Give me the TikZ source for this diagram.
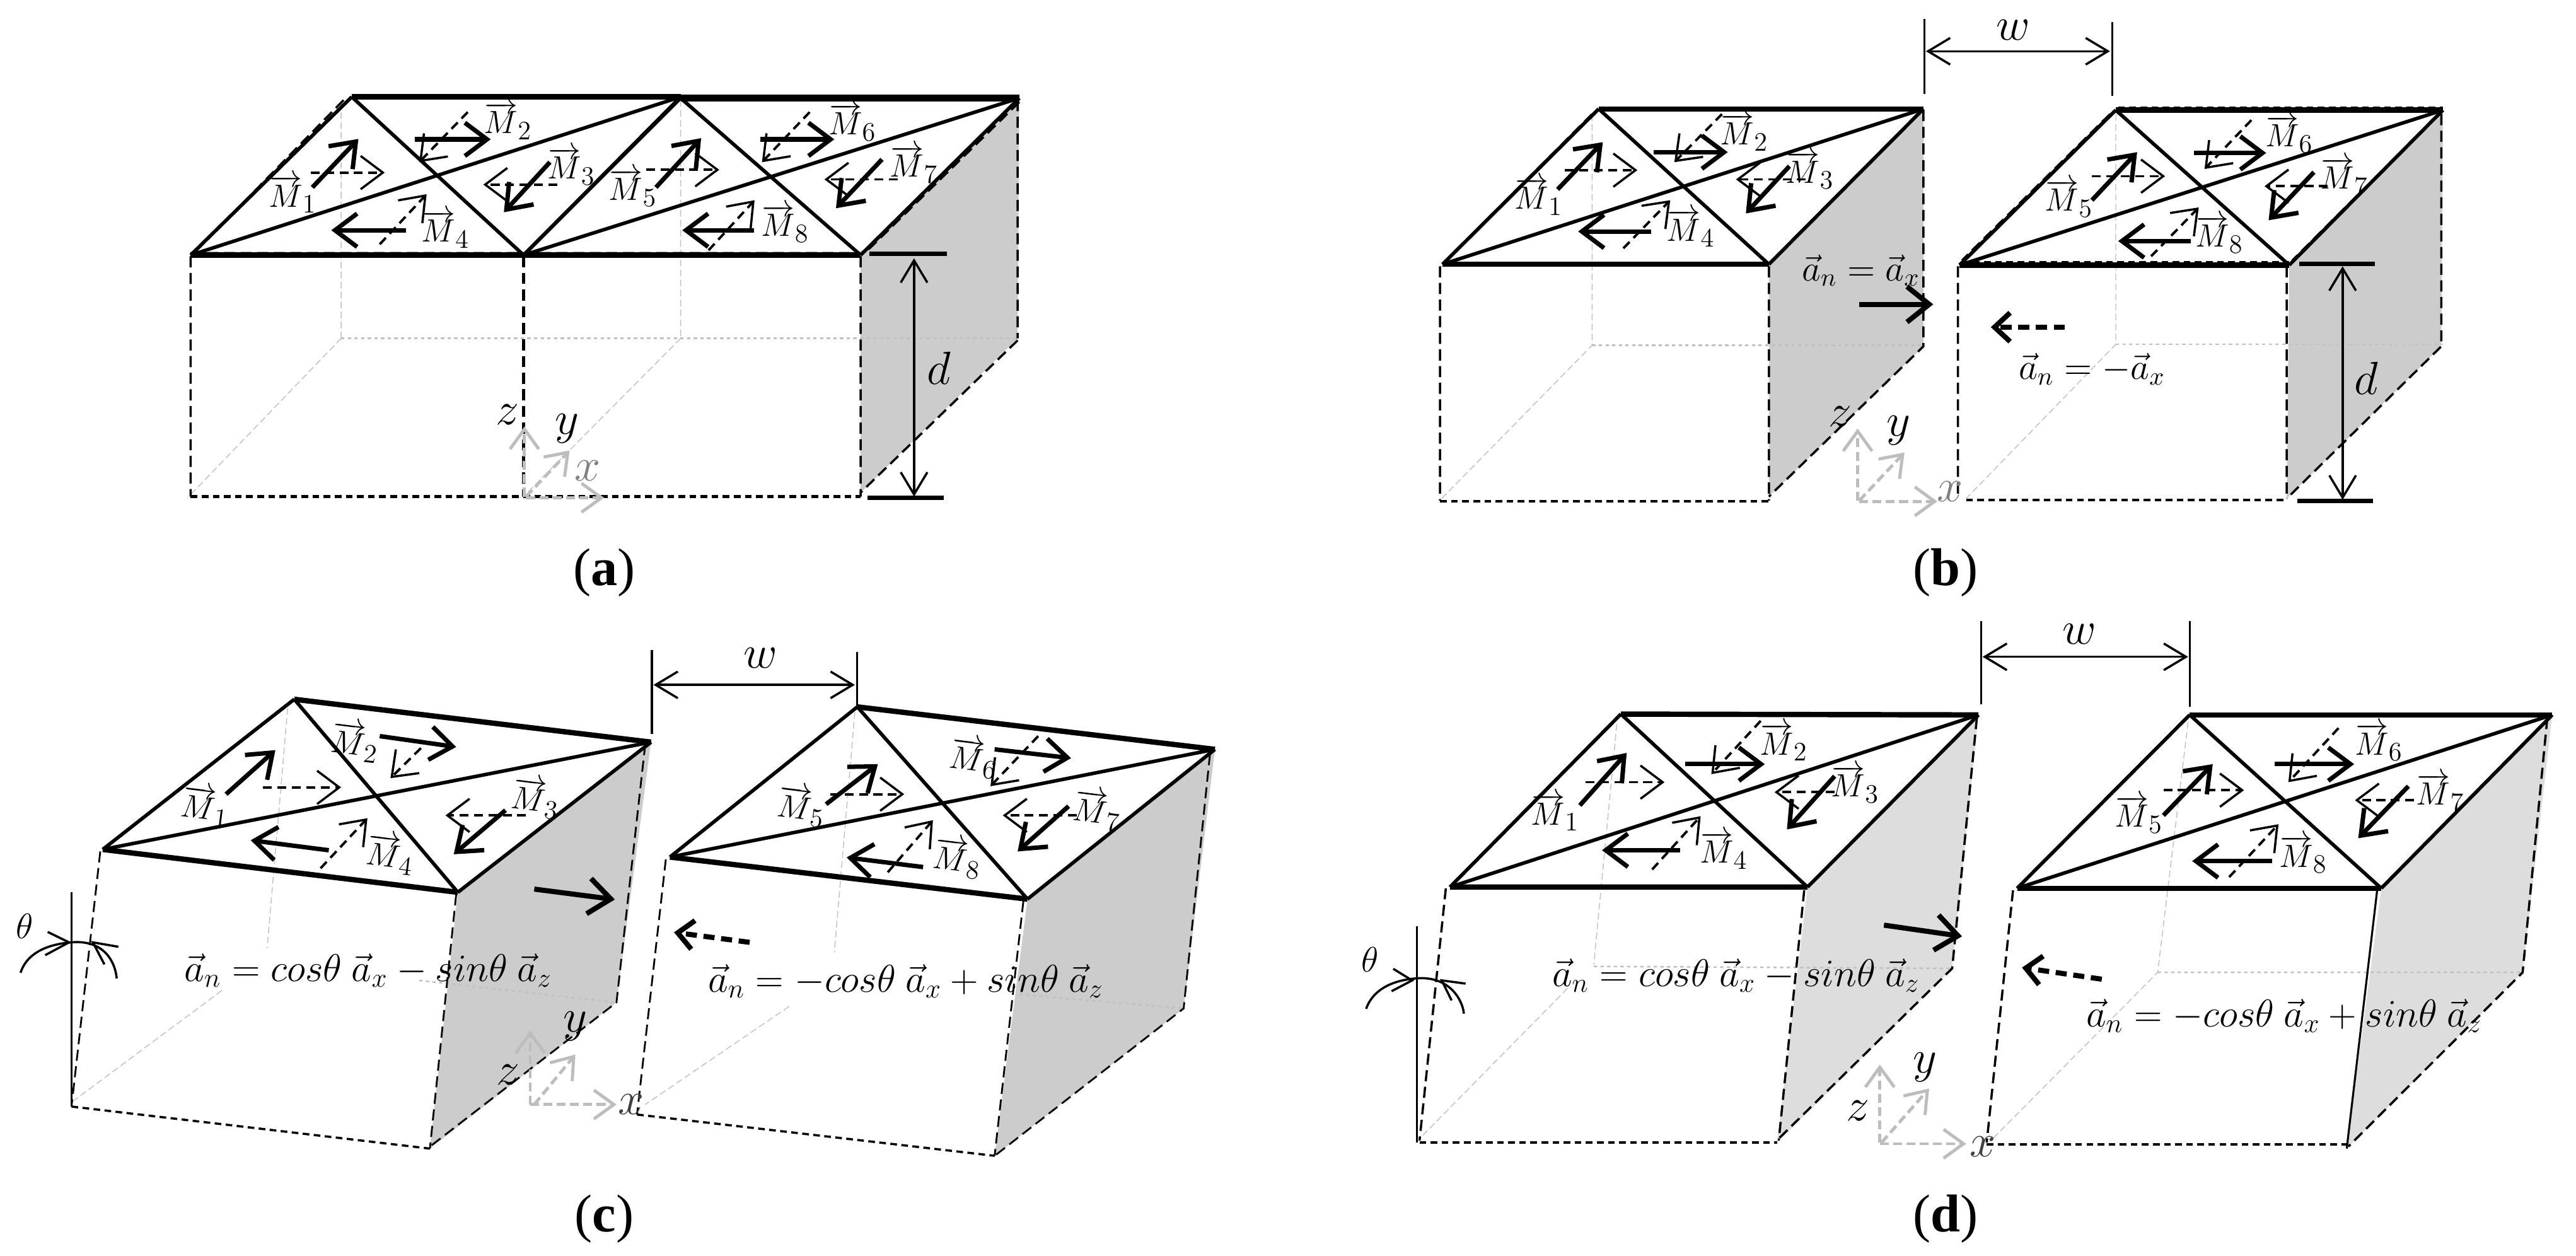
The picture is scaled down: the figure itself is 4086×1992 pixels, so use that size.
\RequirePackage{fix-cm}
\documentclass[tikz,border=0pt]{standalone}
\usepackage{fontspec}
\setmainfont{Liberation Serif}
\usetikzlibrary{arrows.meta}
\DeclareMathSizes{14.5}{14.5}{12}{10}
\definecolor{sidegray}{HTML}{CCCCCC}
\definecolor{sidegrayd}{HTML}{DDDDDD}
\definecolor{axisgray}{HTML}{BDBDBD}
\definecolor{hidgray}{HTML}{C0C0C0}
\tikzset{
  sarr/.style={line width=2pt,-{Straight Barb[length=10pt,width=15pt,line width=2pt]}},
  darr/.style={line width=1.1pt,dash pattern=on 4pt off 2.5pt,-{Straight Barb[length=10pt,width=15pt,line width=1pt]}},
  bigs/.style={line width=2.3pt,-{Straight Barb[length=10pt,width=16pt,line width=2.3pt]}},
  bigd/.style={line width=2.3pt,dash pattern=on 5pt off 3pt,-{Straight Barb[length=7pt,width=13pt,line width=2.3pt]}},
  axa/.style={axisgray,line width=1.4pt,dash pattern=on 4pt off 2pt,-{Straight Barb[length=9pt,width=13pt,line width=1.4pt]}},
  dimarr/.style={line width=1pt,{Straight Barb[length=10pt,width=12pt,line width=1pt]}-{Straight Barb[length=10pt,width=12pt,line width=1pt]}},
  ticks/.style={line width=.9pt},
  bdash/.style={line width=1pt,dash pattern=on 5pt off 2.5pt},
  bshort/.style={line width=1.2pt,dash pattern=on 3pt off 2pt},
  hid/.style={hidgray,line width=.4pt,dash pattern=on 3pt off 1.5pt},
  hidd/.style={hidgray,line width=.7pt,dash pattern=on 1.5pt off 1.5pt},
  ml/.style={font=\fontsize{14.5}{17}\selectfont,inner sep=0pt},
  fm/.style={font=\fontsize{17.5}{20}\selectfont,inner sep=0pt},
  fmb/.style={font=\fontsize{16.5}{20}\selectfont,inner sep=0pt},
  dimlab/.style={font=\fontsize{21}{24}\selectfont,inner sep=0pt},
  thetalab/.style={font=\fontsize{16}{19}\selectfont,inner sep=0pt},
  captext/.style={font=\fontsize{24}{28}\selectfont,inner sep=0pt},
}
\newcommand{\ML}[4][0]{\node[ml,rotate=#1] at (#2,#3) {$\overrightarrow{M}_{#4}$};}
\def\tile(#1)(#2)(#3)(#4){%
  \draw[line width=1.6pt] (#1)--(#4) (#2)--(#3);
  \draw[line width=1.6pt] (#1)--(#3) (#2)--(#4);
  \draw[line width=2.4pt] (#1)--(#2) (#3)--(#4);}
\begin{document}
\begin{tikzpicture}[x=0.01cm,y=-0.01cm]
\useasboundingbox (0,0) rectangle (4086,1992);
\fill[white] (0,0) rectangle (4086,1992);
%% ---------- panel a
\begin{scope}[x=0.013029cm,y=-0.006352cm]
\fill[sidegray] (1047,637)--(1240,245)--(1238,845)--(1047,1230)--cycle;
\draw[hid] (415,255)--(415,845) (828,250)--(828,845) (415,845)--(232,1235) (828,845)--(637,1240);
\draw[hidd] (415,845)--(1238,845);
\draw[bdash] (232,640)--(232,1240) (1047,640)--(1047,1240) (1238,250)--(1238,845) (1238,850)--(1047,1230);
\draw[bdash,line width=1.4pt] (637,640)--(637,1240);
\draw[bshort] (232,1240)--(1047,1240);
\draw[bdash] (418,250)--(236,632) (1240,255)--(1052,632) (232,632)--(1047,632);
\tile(428,242)(828,242)(232,637)(637,637)
\tile(828,245)(1240,245)(637,637)(1047,637)
\draw[line width=3pt] (828,245)--(1240,245);
\draw[sarr] (380,468)--(436,347); \draw[darr] (378,431)--(468,431);
\draw[sarr] (505,348)--(597,348); \draw[darr] (569,280)--(510,405);
\draw[sarr] (669,405)--(613,530); \draw[darr] (678,461)--(588,461);
\draw[sarr] (494,575)--(403,575); \draw[darr] (462,610)--(519,485);
\draw[sarr] (798,468)--(853,345); \draw[darr] (786,424)--(875,424);
\draw[sarr] (925,348)--(1015,348); \draw[darr] (985,280)--(927,405);
\draw[sarr] (1073,398)--(1017,520); \draw[darr] (1092,448)--(1003,448);
\draw[sarr] (917,575)--(830,575); \draw[darr] (862,625)--(918,500);
\ML{356}{485}{1}\ML{618}{302}{2}\ML{695}{415}{3}\ML{542}{572}{4}
\ML{770}{468}{5}\ML{1037}{305}{6}\ML{1112}{410}{7}\ML{955}{558}{8}
\draw[ticks,line width=1.8pt] (1058,634)--(1152,634) (1055,1243)--(1148,1243);
\draw[dimarr] (1112,645)--(1112,1240);
\node[dimlab] at (1142,920) {$d$};
\draw[axa] (638,1240)--(638,1065); \draw[axa] (640,1240)--(693,1125); \draw[axa] (640,1243)--(735,1243);
\node[dimlab] at (617,1035) {$z$}; \node[dimlab] at (690,1070) {$y$};
\node[dimlab,text=gray] at (715,1175) {$x$};
\node[captext] at (735,1430) {(\textbf{a})};
\end{scope}
%% ---------- panel b
\begin{scope}[shift={(2043,0)},x=0.013029cm,y=-0.006352cm]
\fill[sidegray] (585,660)--(773,272)--(773,865)--(585,1240)--cycle;
\fill[sidegray] (1218,662)--(1405,275)--(1403,865)--(1215,1245)--cycle;
\draw[hid] (370,285)--(370,862)--(187,1245) (1007,285)--(1007,860)--(825,1245);
\draw[hidd] (370,862)--(773,862) (1007,860)--(1405,860);
\draw[bdash] (185,665)--(185,1250) (585,665)--(585,1250) (773,275)--(773,865)--(585,1240);
\draw[bdash] (815,665)--(815,1245) (1215,665)--(1215,1245) (1403,285)--(1403,865)--(1215,1245);
\draw[bshort] (185,1252)--(585,1252) (825,1248)--(1215,1248);
\draw[bdash] (370,285)--(190,655);
\draw[bdash] (1000,285)--(820,650) (1400,285)--(1222,650);
\draw[bshort] (1010,270)--(1405,270) (820,655)--(1218,655);
\tile(378,272)(773,272)(188,660)(585,660)
\tile(1007,275)(1405,275)(817,662)(1218,662)
\draw[sarr] (328,473)--(383,355); \draw[darr] (337,425)--(425,425);
\draw[sarr] (445,380)--(535,380); \draw[darr] (528,285)--(470,405);
\draw[sarr] (610,415)--(557,533); \draw[darr] (630,448)--(545,448);
\draw[sarr] (442,578)--(353,578); \draw[darr] (408,620)--(465,500);
\draw[sarr] (978,500)--(1033,380); \draw[darr] (978,440)--(1067,440);
\draw[sarr] (1102,382)--(1190,382); \draw[darr] (1172,300)--(1115,422);
\draw[sarr] (1248,430)--(1193,550); \draw[darr] (1265,465)--(1188,465);
\draw[sarr] (1098,602)--(1010,602); \draw[darr] (1050,640)--(1108,518);
\ML{305}{490}{1}\ML{555}{330}{2}\ML{635}{425}{3}\ML{490}{570}{4}
\ML{950}{495}{5}\ML{1218}{335}{6}\ML{1285}{440}{7}\ML{1133}{585}{8}
\draw[ticks] (774,48)--(774,235) (1003,55)--(1003,240);
\draw[dimarr] (776,128)--(1000,128);
\node[dimlab] at (882,75) {$w$};
\draw[ticks,line width=1.8pt] (1230,659)--(1322,659) (1228,1251)--(1320,1251);
\draw[dimarr] (1283,665)--(1283,1248);
\node[dimlab] at (1312,945) {$d$};
\node[fmb] at (697,675) {$\vec a_n=\vec a_x$};
\draw[bigs] (695,760)--(785,760);
\draw[bigd] (945,817)--(855,817);
\node[fmb] at (978,922) {$\vec a_n=-\vec a_x$};
\draw[axa] (693,1250)--(693,1070); \draw[axa] (695,1250)--(750,1130); \draw[axa] (695,1252)--(790,1252);
\node[dimlab] at (672,1040) {$z$}; \node[dimlab] at (743,1075) {$y$};
\node[dimlab,text=gray] at (805,1228) {$x$};
\node[captext] at (800,1430) {(\textbf{b})};
\end{scope}
%% ---------- panel c
\begin{scope}[shift={(0,996)},x=0.013029cm,y=-0.006352cm]
\fill[sidegray] (557,660)--(792,285)--(750,935)--(523,1300)--cycle;
\fill[sidegray] (1250,677)--(1478,303)--(1440,950)--(1210,1318)--cycle;
\draw[hid] (350,200)--(325,800) (270,905)--(90,1180) (1040,210)--(1015,810) (960,945)--(785,1190);
\draw[hidd] (510,880)--(750,935) (1240,915)--(1440,950);
\draw[bdash,line width=.8pt] (122,558)--(87,1195) (555,665)--(523,1300) (785,290)--(750,935)--(523,1295);
\draw[bdash,line width=.8pt] (810,578)--(775,1215) (1245,682)--(1210,1318) (1472,315)--(1440,950)--(1212,1315);
\draw[bshort,line width=1pt] (87,1195)--(523,1300) (775,1215)--(1210,1318);
\draw[ticks] (87,660)--(87,1195);
\node[thetalab] at (30,745) {$\theta$};
\draw[line width=1pt] (25,861) .. controls (32,815) and (55,790) .. (87,785) .. controls (125,778) and (140,830) .. (142,875);
\draw[line width=1pt] (58,759)--(84,785)--(55,817) (144,796)--(113,785)--(127,840);
\tile(358,178)(792,285)(125,553)(557,660)
\tile(1043,197)(1478,303)(815,572)(1250,677)
\draw[sarr] (275,415)--(335,305); \draw[darr] (320,398)--(415,398);
\draw[sarr] (462,270)--(555,297); \draw[darr] (512,300)--(475,375);
\draw[sarr] (615,455)--(552,565); \draw[darr] (640,468)--(542,468);
\draw[sarr] (400,555)--(305,530); \draw[darr] (390,600)--(447,475);
\draw[sarr] (1005,440)--(1068,340); \draw[darr] (1010,415)--(1100,415);
\draw[sarr] (1210,303)--(1303,325); \draw[darr] (1263,270)--(1205,395);
\draw[sarr] (1300,445)--(1238,558); \draw[darr] (1310,468)--(1220,468);
\draw[sarr] (1123,597)--(1030,573); \draw[darr] (1080,610)--(1135,480);
\ML[-7]{250}{445}{1}\ML[-7]{432}{285}{2}\ML[-7]{652}{425}{3}\ML[-7]{475}{565}{4}
\ML[-7]{975}{445}{5}\ML[-7]{1185}{325}{6}\ML[-7]{1335}{455}{7}\ML[-7]{1165}{575}{8}
\draw[ticks] (793,55)--(793,265) (1043,60)--(1043,195);
\draw[dimarr] (795,142)--(1040,142);
\node[dimlab] at (925,75) {$w$};
\node[fm] at (448,855) {$\vec a_n=cos\theta\ \vec a_x-sin\theta\ \vec a_z$};
\node[fm] at (1102,882) {$\vec a_n=-cos\theta\ \vec a_x+sin\theta\ \vec a_z$};
\draw[bigs] (650,652)--(748,678);
\draw[bigd] (912,785)--(820,760);
\draw[axa] (645,1190)--(645,1005); \draw[axa] (650,1190)--(700,1065); \draw[axa] (645,1190)--(750,1190);
\node[dimlab] at (618,1115) {$z$}; \node[dimlab] at (700,995) {$y$};
\node[dimlab,text=darkgray] at (768,1190) {$x$};
\node[captext] at (735,1475) {(\textbf{c})};
\end{scope}
%% ---------- panel d
\begin{scope}[shift={(2043,996)},x=0.013029cm,y=-0.006352cm]
\fill[sidegrayd] (632,647)--(840,217)--(808,850)--(595,1285)--cycle;
\fill[sidegrayd] (1330,650)--(1538,217)--(1502,860)--(1288,1300)--cycle;
\draw[hid] (400,240)--(372,840) (340,900)--(160,1275) (1095,235)--(1058,860)--(855,1280);
\draw[hidd] (372,845)--(808,850) (1058,860)--(1500,860);
\draw[bdash] (192,650)--(160,1280) (628,655)--(597,1280) (838,225)--(808,850)--(597,1275);
\draw[bdash] (882,655)--(850,1285) (1532,225)--(1502,860)--(1290,1295);
\draw[bshort] (160,1285)--(595,1285) (850,1290)--(1288,1290);
\draw[ticks] (1325,655)--(1288,1300);
\draw[ticks] (157,745)--(157,1285);
\node[thetalab] at (100,828) {$\theta$};
\draw[line width=1pt] (95,951) .. controls (103,905) and (125,880) .. (156,875) .. controls (195,868) and (212,925) .. (214,963);
\draw[line width=1pt] (128,851)--(151,880)--(126,907) (216,888)--(187,880)--(199,930);
\tile(405,215)(840,217)(197,647)(632,647)
\tile(1097,217)(1538,217)(887,650)(1330,650)
\draw[sarr] (355,443)--(412,312); \draw[darr] (362,385)--(458,385);
\draw[sarr] (483,340)--(580,340); \draw[darr] (575,232)--(515,365);
\draw[sarr] (665,370)--(607,503); \draw[darr] (665,410)--(592,410);
\draw[sarr] (477,555)--(382,555); \draw[darr] (443,603)--(502,470);
\draw[sarr] (1065,468)--(1125,340); \draw[darr] (1065,405)--(1163,405);
\draw[sarr] (1200,340)--(1297,340); \draw[darr] (1278,250)--(1217,385);
\draw[sarr] (1363,395)--(1302,525); \draw[darr] (1370,430)--(1298,430);
\draw[sarr] (1197,582)--(1100,582); \draw[darr] (1145,622)--(1205,490);
\ML{325}{460}{1}\ML{603}{285}{2}\ML{690}{390}{3}\ML{530}{555}{4}
\ML{1035}{465}{5}\ML{1327}{285}{6}\ML{1402}{410}{7}\ML{1235}{565}{8}
\draw[ticks] (843,-17)--(843,190) (1097,-17)--(1097,197);
\draw[dimarr] (845,72)--(1095,72);
\node[dimlab] at (963,15) {$w$};
\node[fm] at (545,868) {$\vec a_n=cos\theta\ \vec a_x-sin\theta\ \vec a_z$};
\node[fm] at (1212,968) {$\vec a_n=-cos\theta\ \vec a_x+sin\theta\ \vec a_z$};
\draw[bigs] (725,742)--(820,770);
\draw[bigd] (990,877)--(893,848);
\draw[axa] (720,1285)--(720,1090); \draw[axa] (722,1285)--(780,1150); \draw[axa] (720,1288)--(825,1288);
\node[dimlab] at (693,1205) {$z$}; \node[dimlab] at (775,1097) {$y$};
\node[dimlab,text=darkgray] at (845,1295) {$x$};
\node[captext] at (800,1475) {(\textbf{d})};
\end{scope}
\end{tikzpicture}
\end{document}
